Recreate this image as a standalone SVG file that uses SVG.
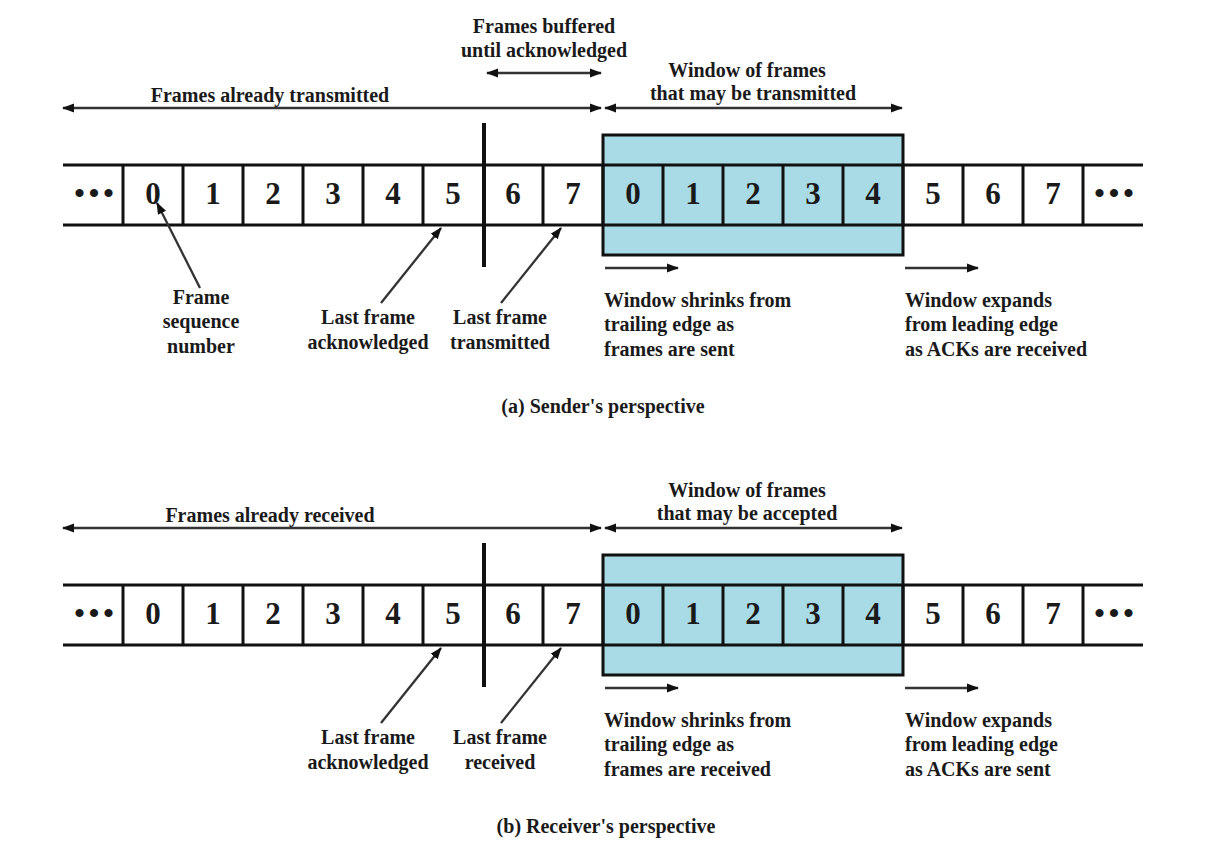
<svg xmlns="http://www.w3.org/2000/svg" width="1225" height="854" viewBox="0 0 1225 854">
<style>
text{font-family:"Liberation Serif","Times New Roman",serif;font-weight:bold;fill:#1a1a1a}
.lbl{font-size:20px}
.mid{text-anchor:middle}
.dig{font-size:31px;text-anchor:middle}
.dots{font-size:30px;letter-spacing:4px;text-anchor:middle}
.strip{stroke:#111;stroke-width:3;fill:none}
.win{fill:#a9dbe7;stroke:#111;stroke-width:3}
.bar{stroke:#111;stroke-width:4}
.arr{stroke:#333;stroke-width:2.3;fill:none}
</style>
<defs>
<marker id="ah" viewBox="0 0 12 10" refX="11" refY="5" markerWidth="12" markerHeight="10" markerUnits="userSpaceOnUse" orient="auto-start-reverse">
<path d="M0,0.5 L12,5 L0,9.5 Z" fill="#111"/>
</marker>
<g id="cells">
<path class="strip" d="M63,165 H1143 M63,225 H1143 M123,165 V225 M183,165 V225 M243,165 V225 M303,165 V225 M363,165 V225 M423,165 V225 M543,165 V225 M603,165 V225 M663,165 V225 M723,165 V225 M783,165 V225 M843,165 V225 M903,165 V225 M963,165 V225 M1023,165 V225 M1083,165 V225"/>
</g>
</defs>
<rect width="1225" height="854" fill="#fff"/>

<!-- (a) Sender -->
<g id="sender">
<rect id="sender-window" class="win" x="603" y="135" width="300" height="120"/>
<g id="sender-strip">
<use href="#cells"/>
<text x="96" y="203" class="dots">•••</text>
<text x="153" y="204" class="dig">0</text>
<text x="213" y="204" class="dig">1</text>
<text x="273" y="204" class="dig">2</text>
<text x="333" y="204" class="dig">3</text>
<text x="393" y="204" class="dig">4</text>
<text x="453" y="204" class="dig">5</text>
<text x="513" y="204" class="dig">6</text>
<text x="573" y="204" class="dig">7</text>
<text x="633" y="204" class="dig">0</text>
<text x="693" y="204" class="dig">1</text>
<text x="753" y="204" class="dig">2</text>
<text x="813" y="204" class="dig">3</text>
<text x="873" y="204" class="dig">4</text>
<text x="933" y="204" class="dig">5</text>
<text x="993" y="204" class="dig">6</text>
<text x="1053" y="204" class="dig">7</text>
<text x="1116" y="203" class="dots">•••</text>
</g>
<line id="sender-bar" class="bar" x1="484" y1="123" x2="484" y2="267"/>
<g id="sender-labels">
<text x="544" y="33" class="lbl mid">Frames buffered</text>
<text x="544" y="57" class="lbl mid">until acknowledged</text>
<text x="270" y="102" class="lbl mid">Frames already transmitted</text>
<text x="747" y="77" class="lbl mid">Window of frames</text>
<text x="753" y="100" class="lbl mid">that may be transmitted</text>
<text x="201" y="304" class="lbl mid">Frame</text>
<text x="201" y="328" class="lbl mid">sequence</text>
<text x="201" y="353" class="lbl mid">number</text>
<text x="368" y="324" class="lbl mid">Last frame</text>
<text x="368" y="349" class="lbl mid">acknowledged</text>
<text x="500" y="324" class="lbl mid">Last frame</text>
<text x="500" y="349" class="lbl mid">transmitted</text>
<text x="604" y="307" class="lbl">Window shrinks from</text>
<text x="604" y="331" class="lbl">trailing edge as</text>
<text x="604" y="356" class="lbl">frames are sent</text>
<text x="905" y="307" class="lbl">Window expands</text>
<text x="905" y="331" class="lbl">from leading edge</text>
<text x="905" y="356" class="lbl">as ACKs are received</text>
<text x="603" y="413" class="lbl mid">(a) Sender's perspective</text>
</g>
</g>

<!-- (b) Receiver -->
<g id="receiver">
<rect id="receiver-window" class="win" x="603" y="555" width="300" height="120"/>
<g id="receiver-strip" transform="translate(0,420)">
<use href="#cells"/>
<text x="96" y="203" class="dots">•••</text>
<text x="153" y="204" class="dig">0</text>
<text x="213" y="204" class="dig">1</text>
<text x="273" y="204" class="dig">2</text>
<text x="333" y="204" class="dig">3</text>
<text x="393" y="204" class="dig">4</text>
<text x="453" y="204" class="dig">5</text>
<text x="513" y="204" class="dig">6</text>
<text x="573" y="204" class="dig">7</text>
<text x="633" y="204" class="dig">0</text>
<text x="693" y="204" class="dig">1</text>
<text x="753" y="204" class="dig">2</text>
<text x="813" y="204" class="dig">3</text>
<text x="873" y="204" class="dig">4</text>
<text x="933" y="204" class="dig">5</text>
<text x="993" y="204" class="dig">6</text>
<text x="1053" y="204" class="dig">7</text>
<text x="1116" y="203" class="dots">•••</text>
</g>
<line id="receiver-bar" class="bar" x1="484" y1="543" x2="484" y2="687"/>
<g id="receiver-labels">
<text x="270" y="522" class="lbl mid">Frames already received</text>
<text x="747" y="497" class="lbl mid">Window of frames</text>
<text x="747" y="520" class="lbl mid">that may be accepted</text>
<text x="368" y="744" class="lbl mid">Last frame</text>
<text x="368" y="769" class="lbl mid">acknowledged</text>
<text x="500" y="744" class="lbl mid">Last frame</text>
<text x="500" y="769" class="lbl mid">received</text>
<text x="604" y="727" class="lbl">Window shrinks from</text>
<text x="604" y="751" class="lbl">trailing edge as</text>
<text x="604" y="776" class="lbl">frames are received</text>
<text x="905" y="727" class="lbl">Window expands</text>
<text x="905" y="751" class="lbl">from leading edge</text>
<text x="905" y="776" class="lbl">as ACKs are sent</text>
<text x="606" y="833" class="lbl mid">(b) Receiver's perspective</text>
</g>
</g>

<g id="connectors" class="arr">
<line x1="487" y1="73" x2="601" y2="73" marker-start="url(#ah)" marker-end="url(#ah)"/>
<line x1="63" y1="108" x2="601" y2="108" marker-start="url(#ah)" marker-end="url(#ah)"/>
<line x1="605" y1="108" x2="902" y2="108" marker-start="url(#ah)" marker-end="url(#ah)"/>
<line x1="200" y1="288" x2="157" y2="203" marker-end="url(#ah)"/>
<line x1="381" y1="303" x2="441" y2="228" marker-end="url(#ah)"/>
<line x1="501" y1="303" x2="561" y2="228" marker-end="url(#ah)"/>
<line x1="605" y1="268" x2="678" y2="268" marker-end="url(#ah)"/>
<line x1="905" y1="268" x2="978" y2="268" marker-end="url(#ah)"/>
<line x1="63" y1="528" x2="601" y2="528" marker-start="url(#ah)" marker-end="url(#ah)"/>
<line x1="605" y1="528" x2="902" y2="528" marker-start="url(#ah)" marker-end="url(#ah)"/>
<line x1="381" y1="723" x2="441" y2="648" marker-end="url(#ah)"/>
<line x1="501" y1="723" x2="561" y2="648" marker-end="url(#ah)"/>
<line x1="605" y1="688" x2="678" y2="688" marker-end="url(#ah)"/>
<line x1="905" y1="688" x2="978" y2="688" marker-end="url(#ah)"/>
</g>
</svg>
